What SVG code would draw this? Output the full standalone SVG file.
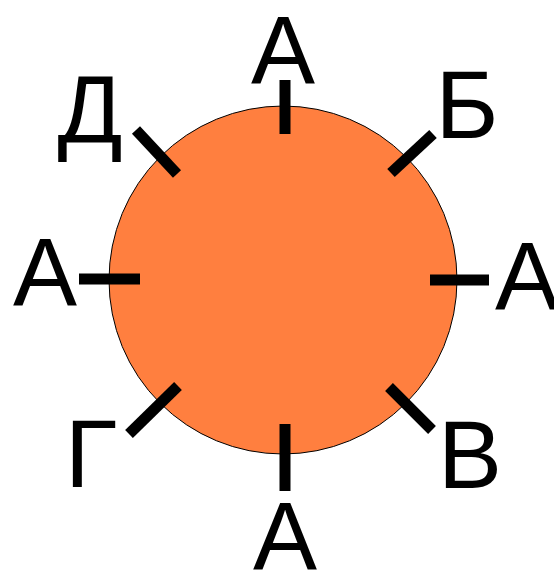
<svg xmlns="http://www.w3.org/2000/svg" width="554" height="570" viewBox="0 0 554 570">
<style>
.lbl{font-family:"Liberation Sans",Arial,sans-serif;font-size:96px;fill:#000;text-anchor:middle}
.tick{stroke:#000;stroke-width:11;stroke-linecap:butt;fill:none}
</style>
<rect width="554" height="570" fill="#fff"/>
<g id="disc">
<circle cx="283" cy="280" r="174" fill="#FF7F3F" stroke="#000" stroke-width="1"/>
</g>
<g id="ticks">
<line class="tick" x1="285" y1="80" x2="285" y2="134"/>
<line class="tick" x1="285" y1="424" x2="285" y2="491"/>
<line class="tick" x1="79" y1="279" x2="140" y2="279"/>
<line class="tick" x1="430" y1="280" x2="489" y2="280"/>
<line class="tick" x1="136" y1="130" x2="177" y2="174"/>
<line class="tick" x1="433" y1="134" x2="391" y2="173"/>
<line class="tick" x1="178" y1="386" x2="129" y2="434"/>
<line class="tick" x1="389" y1="387" x2="432" y2="430"/>
</g>
<g id="labels">
<text class="lbl" x="283" y="83">А</text>
<text class="lbl" x="90" y="143">Д</text>
<text class="lbl" x="467" y="138">Б</text>
<text class="lbl" x="45" y="305">А</text>
<text class="lbl" x="527" y="309">А</text>
<text class="lbl" x="91" y="487">Г</text>
<text class="lbl" x="470" y="488">В</text>
<text class="lbl" x="285" y="569">А</text>
</g>
</svg>
